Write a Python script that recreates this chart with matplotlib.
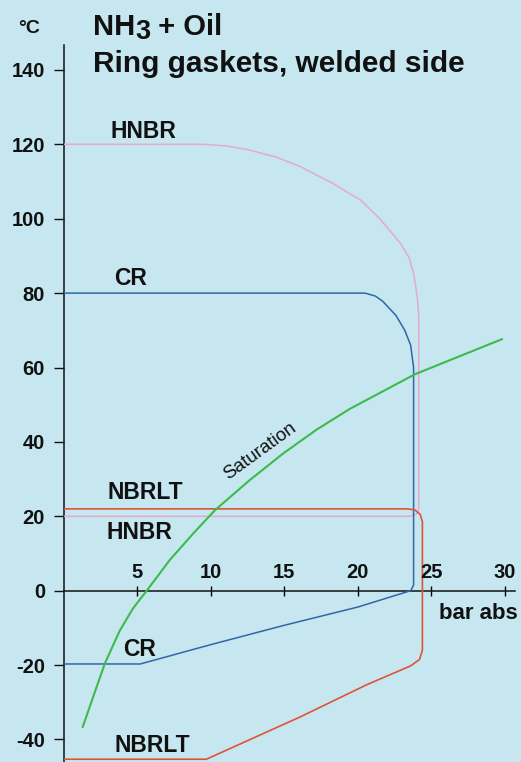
import matplotlib
matplotlib.use("Agg")
import matplotlib.pyplot as plt

# ── Data (pressure in bar abs, temperature in °C) ───────────────────────────
hnbr_p = [0, 9.5, 11.0, 12.6, 14.5, 16.1, 18.3, 20.2, 21.5, 22.9, 23.5, 23.8, 24.05, 24.15, 24.15, 24.0, 23.6, 0]
hnbr_t = [120, 120, 119.6, 118.5, 116.5, 114, 109.5, 105, 100, 93.4, 89.5, 85.3, 79, 74, 22, 20.6, 20, 20]

cr_p = [0, 20.5, 21.2, 21.7, 22.6, 23.2, 23.6, 23.8, 23.8, 23.6, 20, 15, 10, 5.2, 0]
cr_t = [80, 80, 79.2, 77.8, 74, 70, 66, 60, 1.5, 0, -4.4, -9.3, -14.5, -19.7, -19.7]

nbrlt_p = [0, 23.4, 23.9, 24.25, 24.4, 24.4, 24.2, 23.6, 20.6, 16.1, 10.6, 9.7, 0]
nbrlt_t = [22, 22, 21.7, 20.5, 18.5, -16, -18.5, -20.2, -25.3, -33.9, -43.7, -45.3, -45.3]

sat_p = [1.29, 2.0, 2.8, 3.8, 4.7, 5.68, 7.22, 8.81, 10.3, 12.67, 14.93, 17.2, 19.47, 23.9, 29.8]
sat_t = [-36.6, -28.5, -19.5, -10.8, -4.8, 0.2, 8.3, 15.4, 21.7, 29.8, 36.9, 43.3, 48.9, 58.2, 67.6]

x_ticks = [5, 10, 15, 20, 25, 30]
y_ticks = [-40, -20, 0, 20, 40, 60, 80, 100, 120, 140]

# label text, x, y (data coords, left aligned)
curve_labels = [
    ("HNBR", 3.15, 123.4),
    ("CR", 3.45, 84.0),
    ("NBRLT", 3.0, 26.4),
    ("HNBR", 2.9, 15.6),
    ("CR", 4.05, -15.7),
    ("NBRLT", 3.45, -41.5),
]

# ── Style ───────────────────────────────────────────────────────────────────
BG = "#c6e7f0"
PINK = "#e6a9cb"
BLUE = "#2f67a6"
RED = "#dd5535"
GREEN = "#3dba4c"
TEXT = "#111111"
FONT = "Liberation Sans"

W, H = 521, 762
fig = plt.figure(figsize=(W / 100, H / 100), dpi=100)
fig.patch.set_facecolor(BG)

ax = fig.add_axes([63.8 / W, 0, (515 - 63.8) / W, 1 - 45 / H])
ax.set_facecolor(BG)
ax.set_xlim(0, 30.7)
ax.set_ylim(-46.05, 146.7)

ax.plot(hnbr_p, hnbr_t, color=PINK, lw=1.1, solid_joinstyle="round", zorder=3)
ax.plot(cr_p, cr_t, color=BLUE, lw=1.1, solid_joinstyle="round", zorder=3)
ax.plot(nbrlt_p, nbrlt_t, color=RED, lw=1.2, solid_joinstyle="round", zorder=3)
ax.plot(sat_p, sat_t, color=GREEN, lw=1.5, solid_joinstyle="round", zorder=4)

# axes: y spine on the left, x spine running through 0 °C
for s in ["top", "right"]:
    ax.spines[s].set_visible(False)
ax.spines["bottom"].set_position(("data", 0))
for s in ["left", "bottom"]:
    ax.spines[s].set_linewidth(1.1)
    ax.spines[s].set_color(TEXT)
    ax.spines[s].set_zorder(2)

ax.set_yticks(y_ticks)
ax.set_yticklabels([str(v) for v in y_ticks])
ax.tick_params(axis="y", direction="out", length=7.5, width=1, pad=6,
               labelsize=14.5, colors=TEXT)
plt.setp(ax.get_yticklabels(), fontweight="bold", family=FONT)

ax.set_xticks(x_ticks)
ax.set_xticklabels([])
ax.tick_params(axis="x", direction="inout", length=7, width=1)
for p in x_ticks:
    ax.annotate(str(p), (p, 0), xytext=(0, 6), textcoords="offset points",
                ha="center", va="bottom", fontsize=14.5, fontweight="bold",
                family=FONT, color=TEXT)

ax.text(30.9, -6.0, "bar abs", ha="right", va="center", fontsize=16,
        fontweight="bold", family=FONT, color=TEXT, clip_on=False)

for txt, x, y in curve_labels:
    ax.text(x, y, txt, ha="left", va="center", fontsize=16.5,
            fontweight="bold", family=FONT, color=TEXT)

ax.text(13.35, 37.4, "Saturation", rotation=36, ha="center", va="center",
        rotation_mode="anchor", fontsize=13.5, family=FONT, color=TEXT)

# ── Title block ─────────────────────────────────────────────────────────────
fig.text(18 / W, 1 - 33 / H, "°C", fontsize=14, fontweight="bold",
         family=FONT, color=TEXT, va="baseline")

y1 = 1 - 35 / H
t1 = fig.text(93 / W, y1, "NH", fontsize=21, fontweight="bold",
              family=FONT, color=TEXT, va="baseline")
fig.canvas.draw()
r = fig.canvas.get_renderer()
bb = t1.get_window_extent(r)
t2 = fig.text(bb.x1 / W, y1 - 4 / H, "3", fontsize=19.5, fontweight="bold",
              family=FONT, color=TEXT, va="baseline")
bb = t2.get_window_extent(r)
fig.text(bb.x1 / W, y1, " + Oil", fontsize=21, fontweight="bold",
         family=FONT, color=TEXT, va="baseline")

fig.text(93 / W, 1 - 72 / H, "Ring gaskets, welded side", fontsize=21.5,
         fontweight="bold", family=FONT, color=TEXT, va="baseline")

fig.savefig("out.png", dpi=100, facecolor=BG)
